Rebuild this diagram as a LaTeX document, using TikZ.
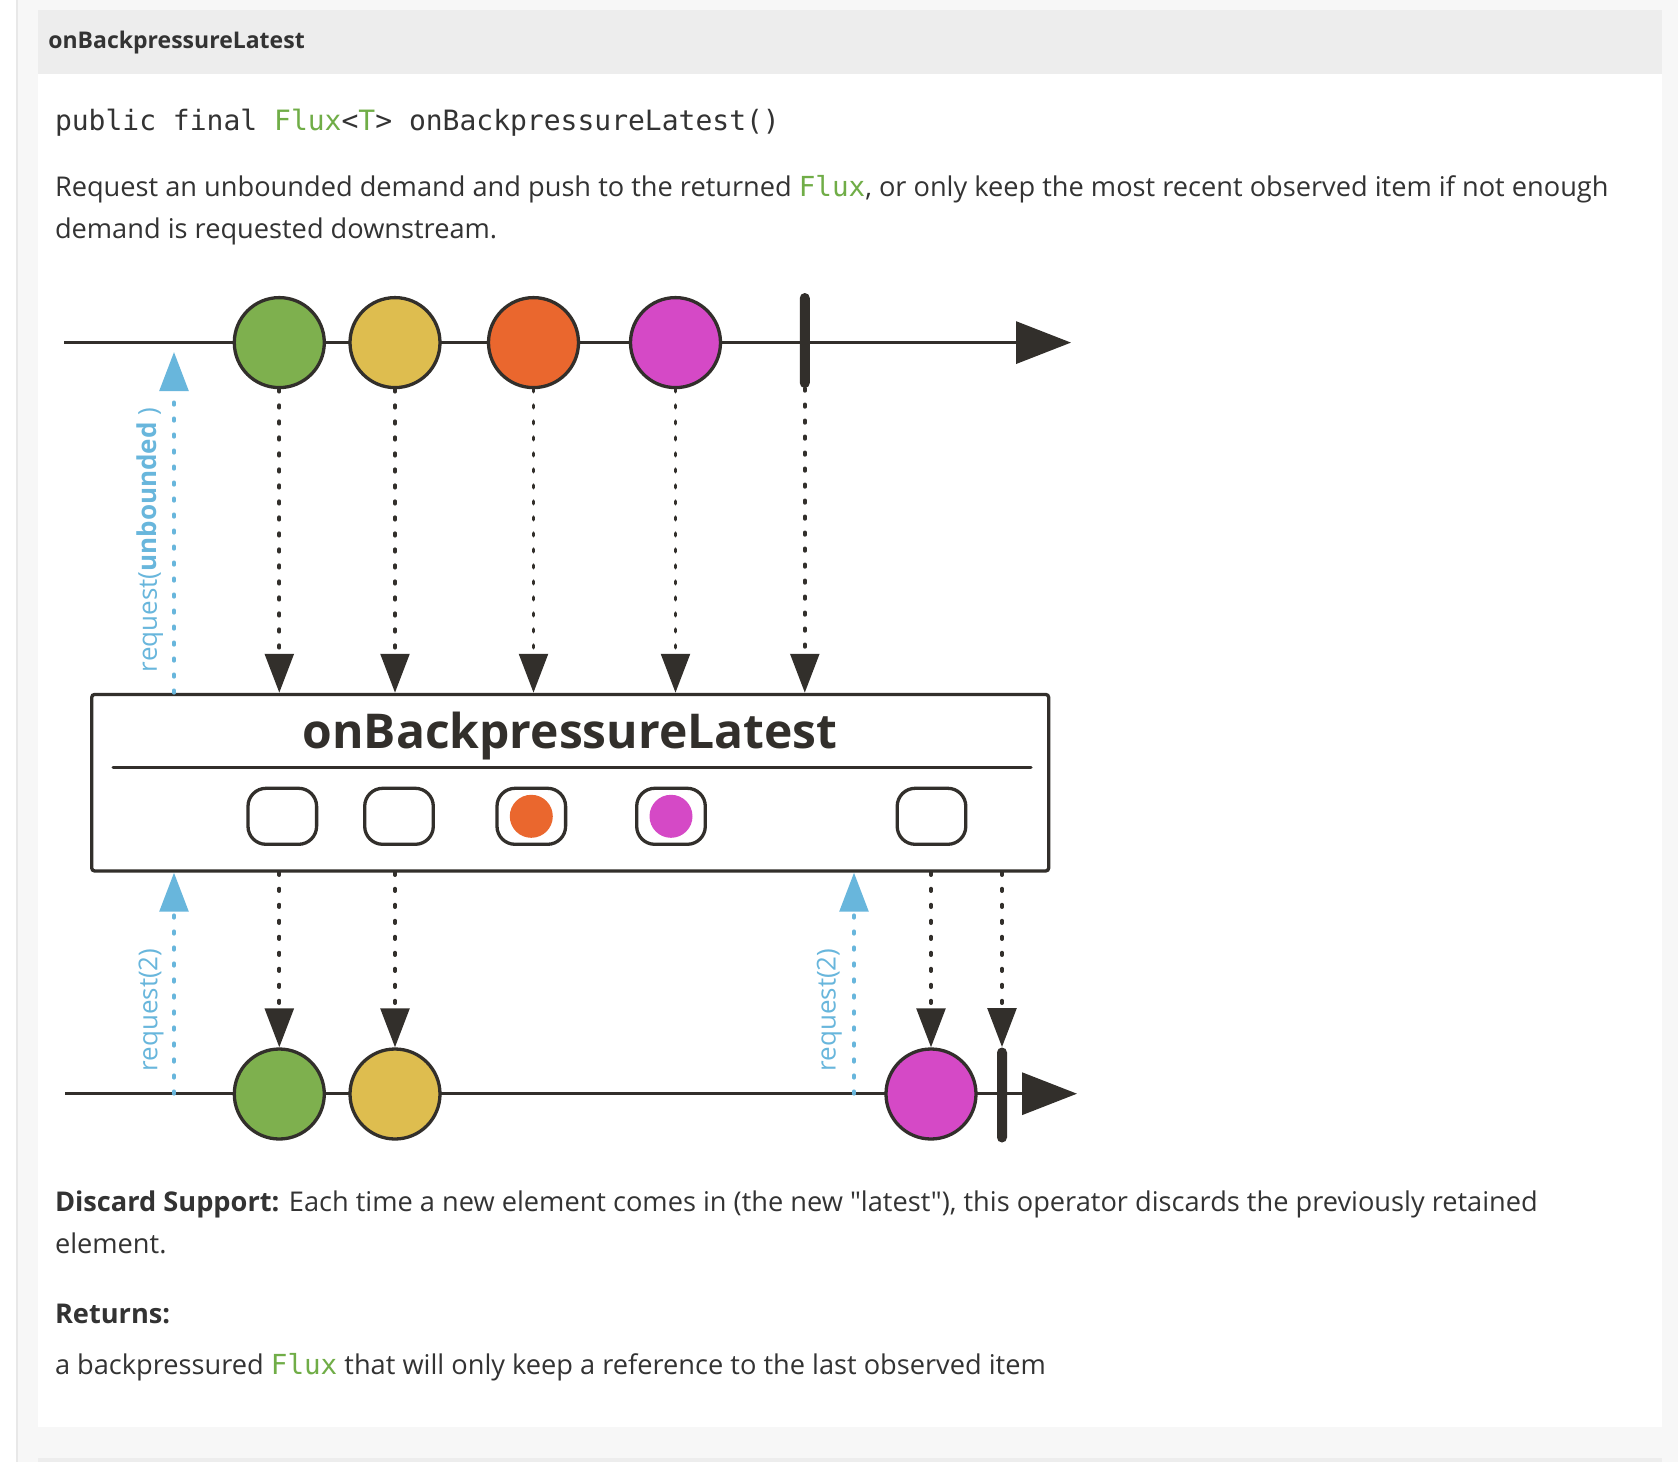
\documentclass[tikz,border=0pt]{standalone}
\usepackage{fontspec}
\setmainfont{Open Sans}[Ligatures=TeXOff]
\setsansfont{Open Sans}[Ligatures=TeXOff]
\setmonofont{DejaVu Sans Mono}
\usetikzlibrary{arrows.meta,positioning,calc}
\definecolor{ink}{RGB}{50,47,43}
\definecolor{txtgray}{RGB}{51,51,51}
\definecolor{fluxgreen}{RGB}{112,173,71}
\definecolor{pagebg}{RGB}{247,247,247}
\definecolor{rulegray}{RGB}{232,232,232}
\definecolor{bandgray}{RGB}{237,237,237}
\definecolor{mgreen}{RGB}{126,176,78}
\definecolor{myellow}{RGB}{222,189,79}
\definecolor{morange}{RGB}{234,103,46}
\definecolor{mpink}{RGB}{213,73,198}
\definecolor{reqblue}{RGB}{104,182,220}
\newcommand{\fluxname}{{\fontsize{13.8pt}{16pt}\ttfamily\color{fluxgreen}Flux}}
\tikzset{
  headtxt/.style={font=\fontsize{11.5pt}{14pt}\selectfont\bfseries, text=txtgray, inner sep=0pt},
  codetxt/.style={font=\fontsize{14pt}{17pt}\ttfamily, text=txtgray, inner sep=0pt},
  bodytxt/.style={font=\fontsize{13.6pt}{20.8pt}\selectfont, text=txtgray, inner sep=0pt},
  marble/.style={circle, draw=ink, line width=1.65pt, minimum size=45pt, inner sep=0pt},
  donebar/.style={rectangle, fill=ink, minimum width=5pt, minimum height=47.5pt, inner sep=0pt, rounded corners=2.5pt},
  timeline/.style={ink, line width=1.65pt, -{Triangle[length=27.5pt, width=21pt]}},
  emit/.style={ink, line width=1.9pt, line cap=round, dash pattern=on 1.2pt off 6.8pt, -{Triangle[length=19.5pt, width=14.3pt]}},
  reqarr/.style={emit, reqblue},
  reqtxt/.style={font=\fontsize{13pt}{16pt}\selectfont, text=reqblue, inner sep=0pt},
  opbox/.style={rectangle, draw=ink, line width=1.65pt, minimum width=478.5pt, minimum height=88.3pt, rounded corners=1.5pt, inner sep=0pt, fill=white},
  optitle/.style={font=\fontsize{24pt}{28pt}\selectfont\bfseries, text=ink, inner sep=0pt},
  slot/.style={rectangle, draw=ink, line width=1.65pt, minimum width=34.3pt, minimum height=28pt, rounded corners=9pt, inner sep=0pt},
  held/.style={circle, minimum size=21.5pt, inner sep=0pt},
}
\begin{document}
\begin{tikzpicture}[x=0.5pt, y=-0.5pt]
\useasboundingbox (0,0) rectangle (1678,1462);
\fill[white] (0,0) rectangle (1678,1462);
\fill[pagebg] (18,0) rectangle (1678,1462);
\fill[rulegray] (16,0) rectangle (18,1462);
\fill[bandgray] (38,10) rectangle (1662,74);
\fill[white] (38,74) rectangle (1662,1427);
\fill[bandgray] (38,1458) rectangle (1662,1462);

\node[headtxt, anchor=base west] (head) at (48,48.3) {onBackpressureLatest};
\node[codetxt, anchor=base west] (sig) at (54.6,130.7) {public final \textcolor{fluxgreen}{Flux}<\textcolor{fluxgreen}{T}> onBackpressureLatest()};
\node[bodytxt, anchor=base west] (desc1) at (54.6,196.7) {Request an unbounded demand and push to the returned \fluxname, or only keep the most recent observed item if not enough};
\node[bodytxt, anchor=base west] (desc2) at (54.6,238.4) {demand is requested downstream.};

\coordinate (up0) at (64,342.6);
\coordinate (up1) at (1071,342.6);
\draw[timeline] (up0) -- (up1);
\node[marble, fill=mgreen] (g1) at (279.3,342.6) {};
\node[marble, fill=myellow] (y1) at (395,342.6) {};
\node[marble, fill=morange] (o1) at (533.5,342.6) {};
\node[marble, fill=mpink] (p1) at (675.5,342.6) {};
\node[donebar] (done1) at (804.8,340.5) {};

\node[opbox] (op) at (570.2,782.7) {};
\node[optitle, anchor=base] (optxt) at (570,748) {onBackpressureLatest};
\draw[ink, line width=1.5pt, line cap=round] (113,767.3) -- (1031,767.3);
\node[slot] (s1) at (282.3,816.3) {};
\node[slot] (s2) at (399,816.3) {};
\node[slot] (s3) at (531.3,816.3) {};
\node[slot] (s4) at (671,816.3) {};
\node[slot] (s5) at (931.5,816.3) {};
\node[held, fill=morange] (k3) at (s3) {};
\node[held, fill=mpink] (k4) at (s4) {};

\foreach \m in {g1,y1,o1,p1,done1}
  \draw[emit] (\m.south) -- (\m |- op.north);

\coordinate (dn0) at (65,1093.7);
\coordinate (dn1) at (1077,1093.7);
\draw[timeline] (dn0) -- (dn1);
\node[marble, fill=mgreen] (g2) at (279.3,1094) {};
\node[marble, fill=myellow] (y2) at (395,1094) {};
\node[marble, fill=mpink] (p2) at (931,1094) {};
\node[donebar] (done2) at (1002,1095) {};

\foreach \m in {g2,y2,p2,done2}
  \draw[emit] (\m |- op.south) -- (\m.north);

\coordinate (rq1) at (174,352);
\draw[reqarr] (rq1 |- op.north) -- (rq1);
\node[reqtxt, rotate=90] (rq1lbl) at (150,540) {request(\textbf{unbounded} )};
\coordinate (rq2) at (174,1093.7);
\draw[reqarr] (rq2) -- (rq2 |- op.south);
\node[reqtxt, rotate=90] (rq2lbl) at (151,1010) {request(2)};
\coordinate (rq3) at (854,1093.7);
\draw[reqarr] (rq3) -- (rq3 |- op.south);
\node[reqtxt, rotate=90] (rq3lbl) at (829.4,1010) {request(2)};

\node[bodytxt, anchor=base west] (disc1) at (54.6,1211.7) {\textbf{Discard Support:} Each time a new element comes in (the new "latest"), this operator discards the previously retained};
\node[bodytxt, anchor=base west] (disc2) at (54.6,1253.3) {element.};
\node[bodytxt, anchor=base west] (ret) at (54.6,1323) {\textbf{Returns:}};
\node[bodytxt, anchor=base west] (retd) at (54.6,1374) {a backpressured \fluxname{} that will only keep a reference to the last observed item};
\end{tikzpicture}
\end{document}
